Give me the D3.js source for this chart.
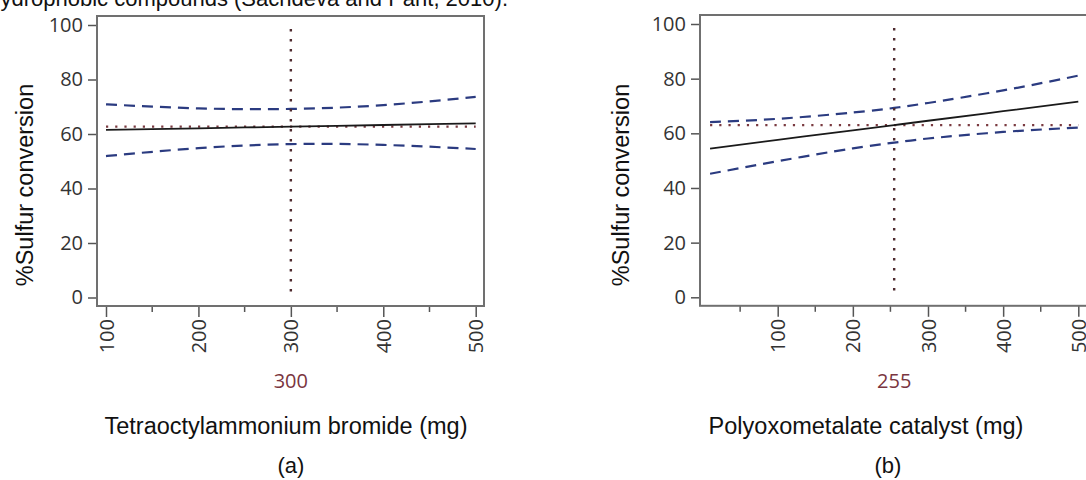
<!DOCTYPE html>
<html>
<head>
<meta charset="utf-8">
<script src="https://cdn.jsdelivr.net/npm/d3@7"></script>
<style>
  body { margin: 0; background: #fff; }
  svg { display: block; }
  .tick text { font-family: "Open Sans", sans-serif; font-size: 20px; fill: #333; }
  .title { font-family: "Liberation Sans", Arial, sans-serif; font-size: 23.5px; fill: #111; }
</style>
</head>
<body>
<script>
var width = 1086,
    height = 480;

var yTicks = [0, 20, 40, 60, 80, 100];
var xMajor = [100, 200, 300, 400, 500];

var aX = [100, 200, 300, 400, 500];
var aPred = [61.5, 62.1, 62.7, 63.3, 63.9];
var aUpper = [70.9, 69.4, 69.2, 70.6, 73.6];
var aLower = [51.9, 54.8, 56.3, 56.0, 54.5];
var aMean = 62.7, aSetting = 300;
var aMinor = [150, 250, 350, 450];

var bX = [10, 100, 200, 255, 300, 400, 500];
var bPred = [54.4, 57.6, 61.1, 63.0, 64.6, 68.1, 71.6];
var bUpper = [64.1, 65.3, 67.6, 69.3, 71.1, 75.7, 81.1];
var bLower = [45.2, 49.8, 54.5, 56.6, 58.1, 60.5, 62.1];
var bMean = 63.0, bSetting = 255;
var bMinor = [50, 150, 250, 350, 450];

var svg = d3.select("body").append("svg").attr("width", width).attr("height", height);

// caption line above, mostly cut off
svg.append("text").attr("class", "title")
    .attr("x", 508).attr("y", 6).attr("text-anchor", "end")
    .style("font-size", "22px")
    .text("hydrophobic compounds (Sachdeva and Pant, 2010).");

function panel(o) {
    var x = d3.scaleLinear().domain([100, 500]).range(o.xr);
    var y = d3.scaleLinear().domain([0, 100]).range(o.yr);
    var g = svg.append("g");

    var left = o.frameLeft, right = o.frameRight,
        top = y(100) - 9, bottom = y(0) + 8.5;

    // axes
    var ya = g.append("g").attr("transform", "translate(" + left + ",0)")
        .call(d3.axisLeft(y).tickValues(yTicks).tickSize(9).tickPadding(5));
    ya.select(".domain").remove();
    ya.selectAll(".tick line").attr("stroke", "#555").attr("stroke-width", 1.5);

    var xa = g.append("g").attr("transform", "translate(0," + bottom + ")")
        .call(d3.axisBottom(x).tickValues(xMajor).tickSize(11).tickFormat(d3.format("d")));
    xa.select(".domain").remove();
    xa.selectAll(".tick line").attr("stroke", "#555").attr("stroke-width", 1.5);
    xa.selectAll(".tick text")
        .attr("transform", "translate(0,13) rotate(-90)")
        .attr("text-anchor", "end").attr("x", 0).attr("y", 0).attr("dy", "0.35em");

    g.append("g").selectAll("line").data(o.minor).enter().append("line")
        .attr("x1", d => x(d)).attr("x2", d => x(d))
        .attr("y1", bottom).attr("y2", bottom + 6)
        .attr("stroke", "#555").attr("stroke-width", 1.5);

    // frame
    g.append("rect")
        .attr("x", left).attr("y", top)
        .attr("width", right - left).attr("height", bottom - top)
        .attr("fill", "none").attr("stroke", "#707070").attr("stroke-width", 2);

    var line = d3.line().x(d => x(d[0])).y(d => y(d[1])).curve(d3.curveNatural);
    var xs = o.xs;
    var xmin = d3.min(xs), xmax = d3.max(xs);

    // mean response
    g.append("line")
        .attr("x1", x(xmin)).attr("x2", x(xmax))
        .attr("y1", y(o.mean)).attr("y2", y(o.mean))
        .attr("stroke", "#7a3a40").attr("stroke-width", 2.2)
        .attr("stroke-dasharray", "2.2,7");

    [o.upper, o.lower].forEach(function (s) {
        g.append("path").datum(xs.map((v, i) => [v, s[i]]))
            .attr("d", line).attr("fill", "none")
            .attr("stroke", "#2b3b80").attr("stroke-width", 2.2)
            .attr("stroke-dasharray", "11,7");
    });

    g.append("path").datum(xs.map((v, i) => [v, o.pred[i]]))
        .attr("d", line).attr("fill", "none")
        .attr("stroke", "#1a1a1a").attr("stroke-width", 1.8);

    // current setting
    g.append("line")
        .attr("x1", x(o.setting)).attr("x2", x(o.setting))
        .attr("y1", y(98.5)).attr("y2", y(0))
        .attr("stroke", "#4e2a2e").attr("stroke-width", 2.4)
        .attr("stroke-dasharray", "2.4,7.6");

    g.append("text")
        .attr("x", x(o.setting)).attr("y", 388).attr("text-anchor", "middle")
        .style("font-family", "'Open Sans', sans-serif").style("font-size", "20px")
        .attr("fill", "#7a3540").text(o.setting);

    g.append("text").attr("class", "title")
        .attr("transform", "translate(" + o.ylabX + ",185) rotate(-90)")
        .attr("text-anchor", "middle").text("%Sulfur conversion");

    g.append("text").attr("class", "title")
        .attr("x", o.xlabX).attr("y", 434).attr("text-anchor", "middle")
        .text(o.xlab);

    g.append("text").attr("class", "title")
        .attr("x", o.capX).attr("y", 473).attr("text-anchor", "middle")
        .style("font-size", "22px").text(o.cap);
}

panel({
    xr: [106, 475.7], yr: [297.5, 25], frameLeft: 97, frameRight: 484,
    xs: aX, pred: aPred, upper: aUpper, lower: aLower, mean: aMean, setting: aSetting,
    minor: aMinor, ylabX: 33, xlabX: 286, capX: 291,
    xlab: "Tetraoctylammonium bromide (mg)", cap: "(a)"
});

panel({
    xr: [777.7, 1078.3], yr: [297.3, 24], frameLeft: 700, frameRight: 1092,
    xs: bX, pred: bPred, upper: bUpper, lower: bLower, mean: bMean, setting: bSetting,
    minor: bMinor, ylabX: 629, xlabX: 866, capX: 888,
    xlab: "Polyoxometalate catalyst (mg)", cap: "(b)"
});
</script>
</body>
</html>
